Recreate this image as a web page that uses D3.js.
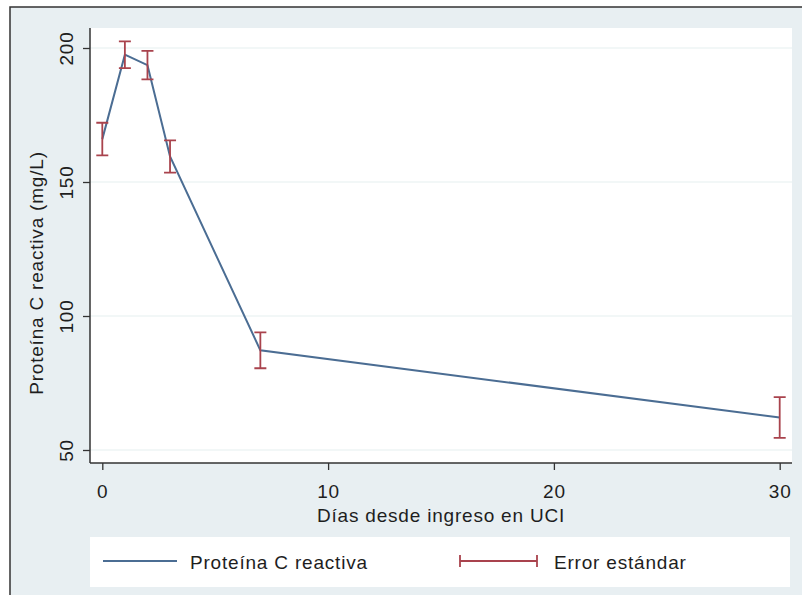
<!DOCTYPE html>
<html>
<head>
<meta charset="utf-8">
<script src="https://cdn.jsdelivr.net/npm/d3@7"></script>
<style>
  html, body { margin: 0; padding: 0; background: #ffffff; }
  svg { display: block; font-family: "Liberation Sans", Arial, sans-serif; }
</style>
</head>
<body>
<svg id="chart" width="802" height="595"></svg>
<script>
// Days since ICU admission and mean C-reactive protein (mg/L) with standard error
const days = [0, 1, 2, 3, 7, 30];
const pcrMean = [166, 197.5, 193.6, 159.5, 87.2, 62.1];
const pcrSE = [6.1, 5.0, 5.3, 6.0, 6.7, 7.6];
const xTicks = [0, 10, 20, 30];
const yTicks = [50, 100, 150, 200];
const xTitle = "Días desde ingreso en UCI";
const yTitle = "Proteína C reactiva (mg/L)";
const legendLabels = ["Proteína C reactiva", "Error estándar"];

const svg = d3.select("#chart");
const W = 802, H = 595;
const lineColor = "#4b6d93";
const errColor = "#a9434d";
const textColor = "#1e1e1e";
const fontSize = 19;
const spacing = "0.8px";

// page and graph region backgrounds
svg.append("rect").attr("x", 0).attr("y", 0).attr("width", W).attr("height", H).attr("fill", "#ffffff");
svg.append("rect").attr("x", 10).attr("y", 7).attr("width", W).attr("height", H)
  .attr("fill", "#e8eff2").attr("stroke", "#333").attr("stroke-width", 1.5);

const plot = { left: 90, right: 792, top: 28, bottom: 463 };
svg.append("rect").attr("x", plot.left).attr("y", plot.top)
  .attr("width", plot.right - plot.left).attr("height", plot.bottom - plot.top)
  .attr("fill", "#ffffff");

const x = d3.scaleLinear().domain([0, 30]).range([102.3, 779.7]);
const y = d3.scaleLinear().domain([50, 200]).range([450, 48]);

// horizontal gridlines
svg.append("g").selectAll("line").data(yTicks).join("line")
  .attr("x1", plot.left).attr("x2", plot.right)
  .attr("y1", d => y(d)).attr("y2", d => y(d))
  .attr("stroke", "#e6eff0").attr("stroke-width", 1.2);

// y axis with labels reading bottom-to-top
const yAxis = svg.append("g").attr("transform", `translate(${plot.left},0)`)
  .call(d3.axisLeft(y).tickValues(yTicks).tickSize(7).tickFormat(d3.format("d")));
yAxis.select(".domain").attr("d", `M0,${plot.top}V${plot.bottom}`).attr("stroke", "#333").attr("stroke-width", 1.5);
yAxis.selectAll(".tick line").attr("stroke", "#333").attr("stroke-width", 1.3);
yAxis.selectAll(".tick text")
  .attr("font-size", fontSize).attr("fill", textColor)
  .attr("letter-spacing", spacing)
  .attr("transform", "rotate(-90)")
  .attr("x", 0).attr("y", -17).attr("dy", 0)
  .attr("text-anchor", "middle");

// x axis
const xAxis = svg.append("g").attr("transform", `translate(0,${plot.bottom})`)
  .call(d3.axisBottom(x).tickValues(xTicks).tickSize(7).tickFormat(d3.format("d")));
xAxis.select(".domain").attr("d", `M${plot.left},0H${plot.right}`).attr("stroke", "#333").attr("stroke-width", 1.5);
xAxis.selectAll(".tick line").attr("stroke", "#333").attr("stroke-width", 1.3);
xAxis.selectAll(".tick text").attr("font-size", fontSize).attr("fill", textColor)
  .attr("letter-spacing", spacing).attr("y", 35).attr("dy", 0);

// axis titles
svg.append("text").attr("x", (plot.left + plot.right) / 2).attr("y", 522)
  .attr("text-anchor", "middle").attr("font-size", fontSize).attr("letter-spacing", spacing)
  .attr("fill", textColor).text(xTitle);
svg.append("text").attr("transform", "translate(43,273) rotate(-90)")
  .attr("text-anchor", "middle").attr("font-size", fontSize).attr("letter-spacing", spacing)
  .attr("fill", textColor).text(yTitle);

// mean line
const pts = days.map((d, i) => ({ x: d, m: pcrMean[i], se: pcrSE[i] }));
svg.append("path").datum(pts)
  .attr("d", d3.line().x(d => x(d.x)).y(d => y(d.m)))
  .attr("fill", "none").attr("stroke", lineColor).attr("stroke-width", 2);

// standard error bars
const cap = 6;
const eb = svg.append("g").attr("stroke", errColor).attr("stroke-width", 1.8).attr("fill", "none");
eb.selectAll("path").data(pts).join("path")
  .attr("d", d => {
    const cx = x(d.x), t = y(d.m + d.se), b = y(d.m - d.se);
    return `M${cx - cap},${t}H${cx + cap}M${cx},${t}V${b}M${cx - cap},${b}H${cx + cap}`;
  });

// legend
const lg = svg.append("g");
lg.append("rect").attr("x", 90).attr("y", 537).attr("width", 700).attr("height", 50).attr("fill", "#ffffff");
lg.append("line").attr("x1", 103).attr("x2", 177).attr("y1", 561).attr("y2", 561)
  .attr("stroke", lineColor).attr("stroke-width", 2);
lg.append("text").attr("x", 190).attr("y", 569).attr("font-size", fontSize).attr("letter-spacing", spacing)
  .attr("fill", textColor).text(legendLabels[0]);
lg.append("path").attr("d", "M460,561H537M460,555V567M537,555V567")
  .attr("stroke", errColor).attr("stroke-width", 1.8).attr("fill", "none");
lg.append("text").attr("x", 554).attr("y", 569).attr("font-size", fontSize).attr("letter-spacing", spacing)
  .attr("fill", textColor).text(legendLabels[1]);
</script>
</body>
</html>
